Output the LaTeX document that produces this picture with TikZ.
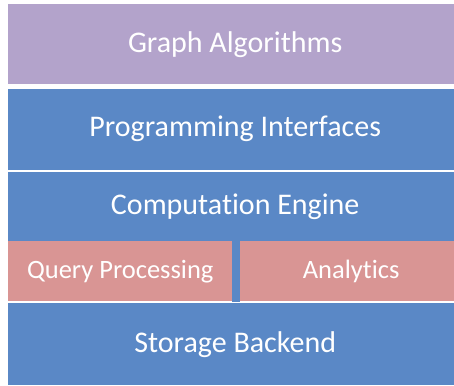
\documentclass[tikz,border=0pt]{standalone}
\usepackage{fontspec}
\setmainfont{Carlito}[Ligatures={NoCommon}]
\usetikzlibrary{positioning}

\definecolor{algpurple}{HTML}{B3A3CB}
\definecolor{layerblue}{HTML}{5A88C6}
\definecolor{partpink}{HTML}{D99594}

\tikzset{
  layer/.style={fill=layerblue, text=white, inner sep=0pt,
    minimum width=454pt, font=\fontsize{30}{36}\selectfont},
  part/.style={layer, fill=partpink, minimum height=60pt,
    font=\fontsize{26.5}{32}\selectfont}
}

\begin{document}
\begin{tikzpicture}[x=1pt, y=-1pt]
\useasboundingbox[fill=white] (0,0) rectangle (454,385);
\node[layer, fill=algpurple, minimum height=80pt, anchor=north west] (galg) at (8,4)
  {Graph Algorithms};
\node[layer, minimum height=81pt, below=4pt of galg] (progif)
  {Programming Interfaces};
\node[layer, minimum height=69pt, below=2pt of progif] (compeng)
  {Computation Engine};
\node[part, minimum width=224pt, anchor=north west] (query) at (compeng.south west)
  {Query Processing};
\node[part, minimum width=222pt, anchor=north east] (analytics) at (compeng.south east)
  {Analytics};
% blue strip between the two parts
\fill[layerblue] (query.north east) rectangle (analytics.south west);
\node[layer, minimum height=82pt, anchor=north west] (store) at (8,303)
  {Storage Backend};
\end{tikzpicture}
\end{document}
